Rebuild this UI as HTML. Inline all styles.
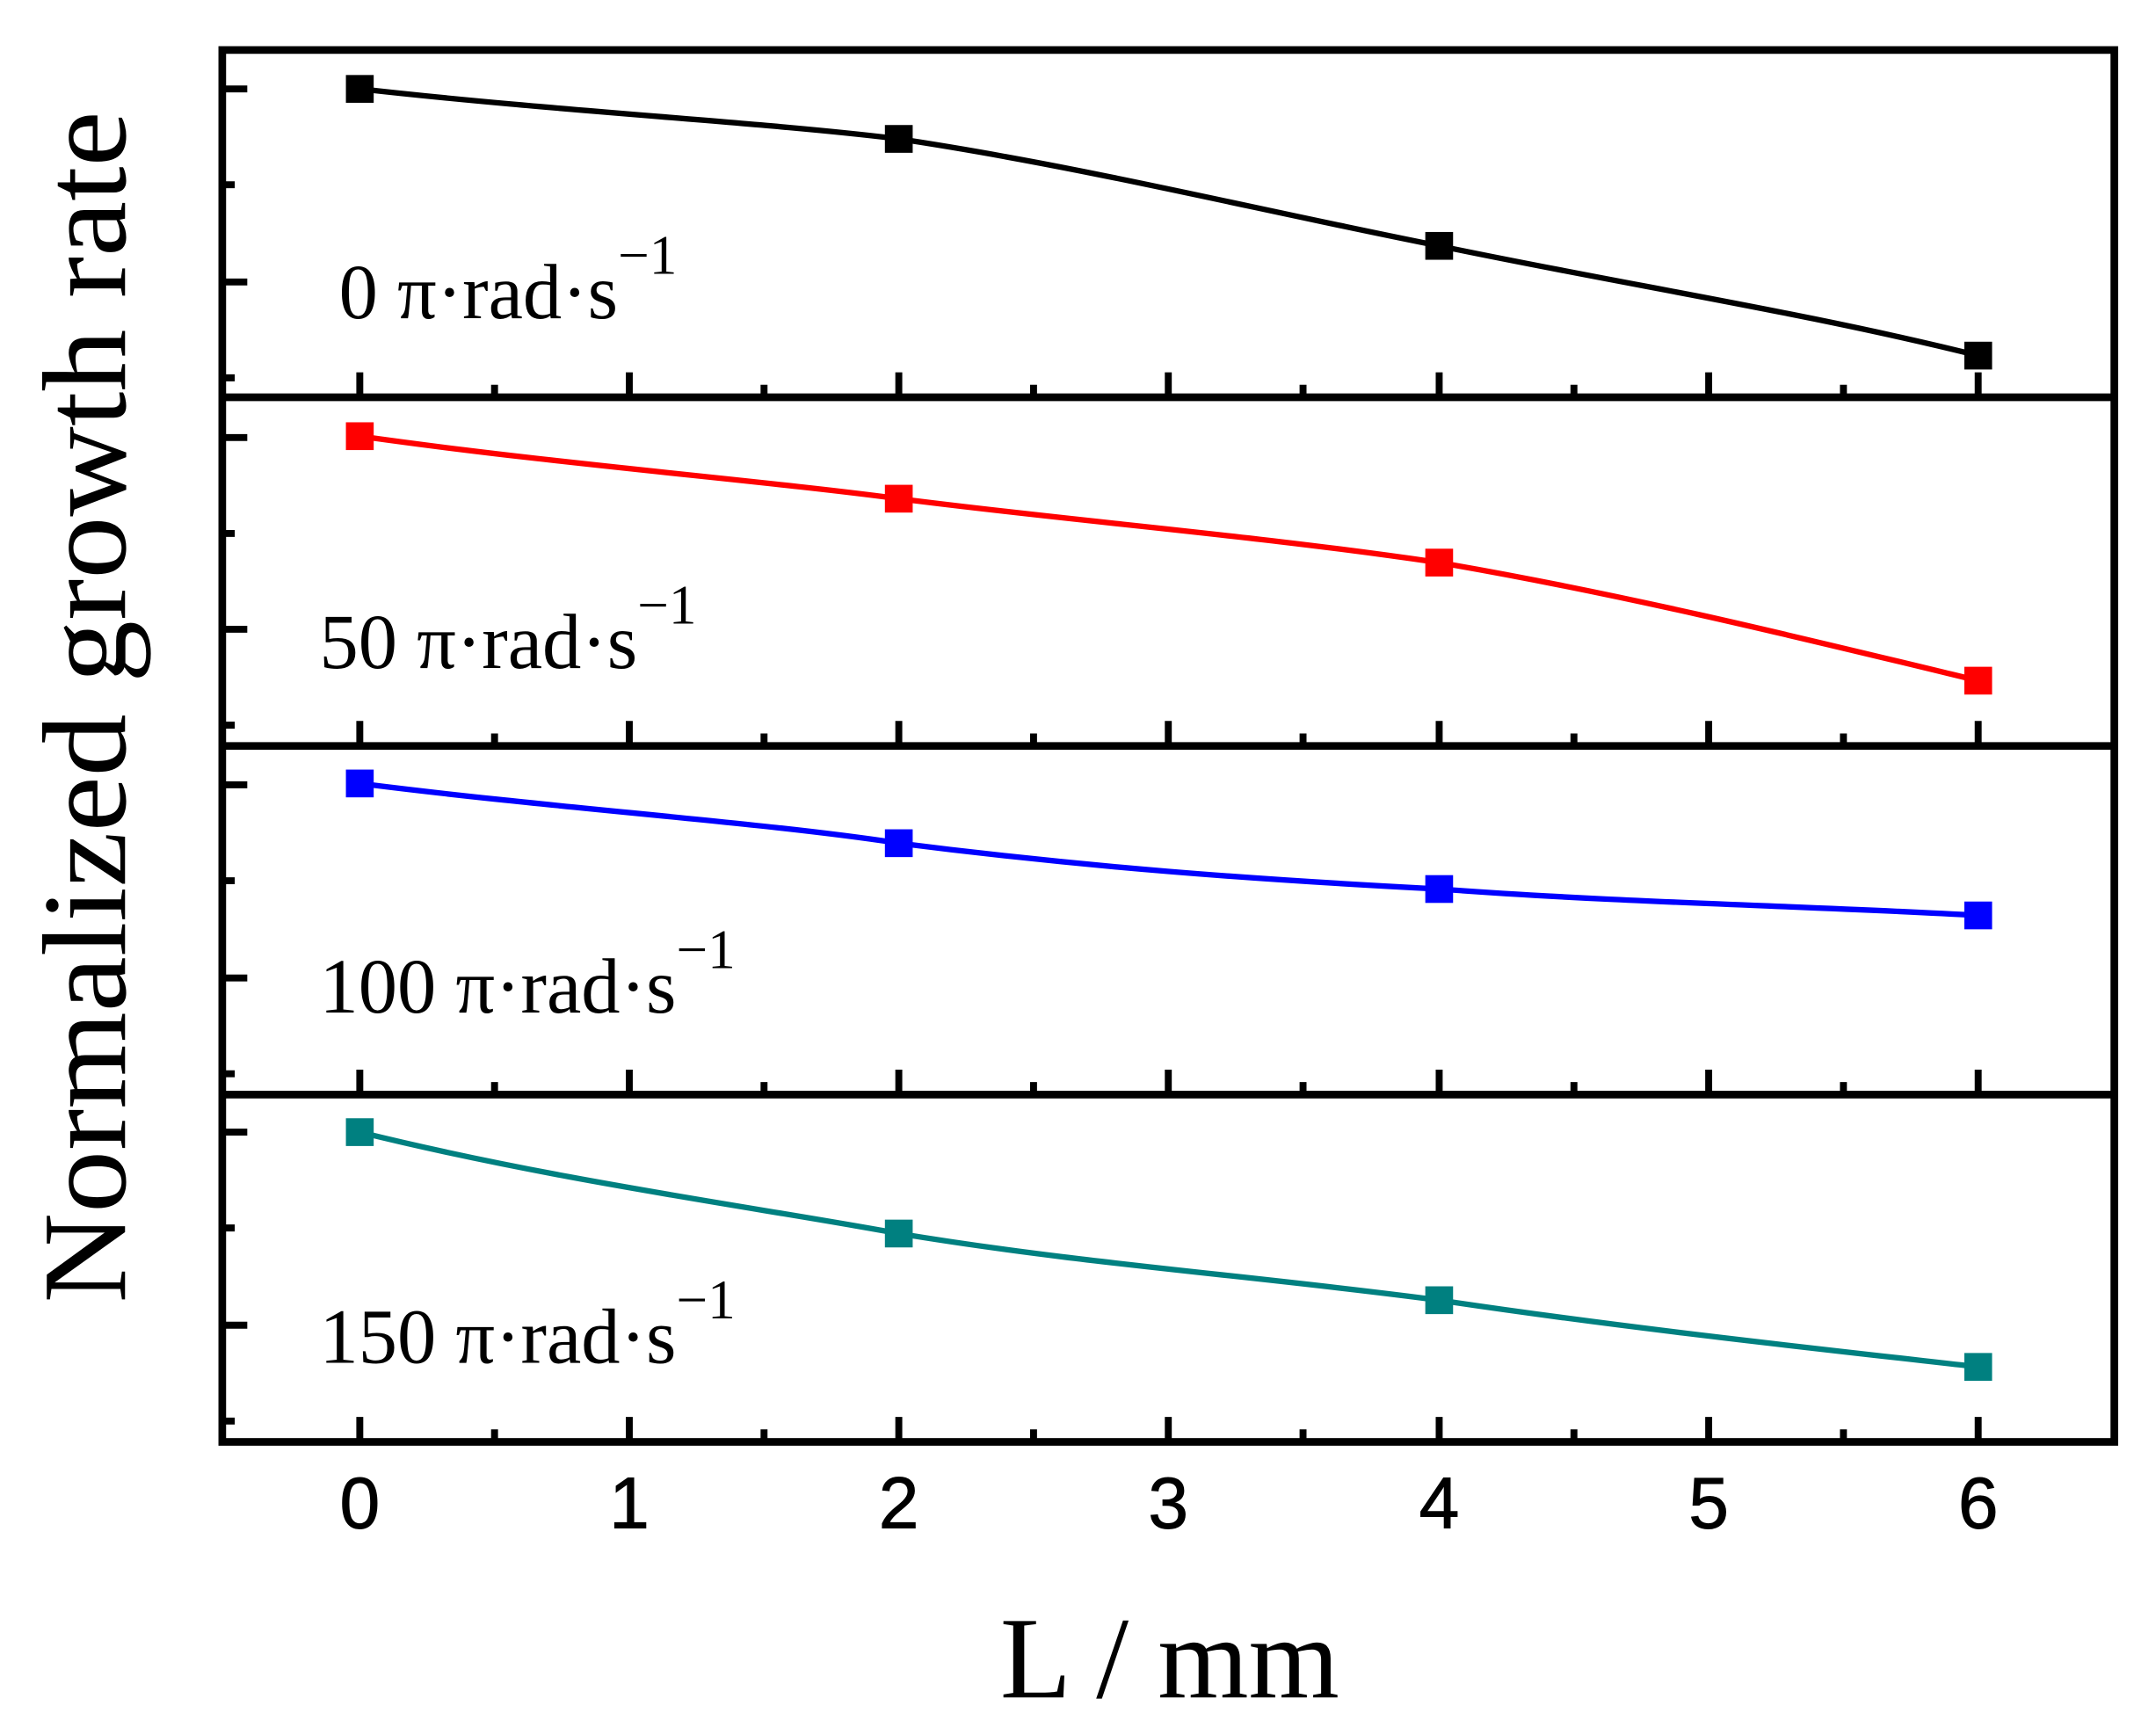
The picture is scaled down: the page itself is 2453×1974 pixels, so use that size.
<!DOCTYPE html>
<html><head><meta charset="utf-8"><style>
html,body{margin:0;padding:0;background:#fff;}
svg{display:block;}
</style></head><body>
<svg width="2453" height="1974" viewBox="0 0 1552 1249" preserveAspectRatio="none" xmlns="http://www.w3.org/2000/svg">
<rect width="1552" height="1249" fill="#fff"/>
<g stroke="#000" stroke-width="5.5" fill="none">
<rect x="160" y="36" width="1362" height="1002"/>
<line x1="160" y1="286" x2="1522" y2="286"/>
<line x1="160" y1="537" x2="1522" y2="537"/>
<line x1="160" y1="788" x2="1522" y2="788"/>
</g>
<g stroke="#000" stroke-width="5">
<path d="M160 64h18M160 203h18M160 133h9M160 272h9
M160 315h18M160 453h18M160 384h9M160 522h9
M160 565h18M160 704h18M160 634h9M160 773h9
M160 815h18M160 954h18M160 884h9M160 1023h9"/>
<path id="xt" d="M259 286v-18M453 286v-18M647 286v-18M841 286v-18M1036 286v-18M1230 286v-18M1424 286v-18M356 286v-9M550 286v-9M744 286v-9M938 286v-9M1133 286v-9M1327 286v-9"/>
<use href="#xt" y="251"/>
<use href="#xt" y="502"/>
<use href="#xt" y="752"/>
</g>
<g font-family="Liberation Sans, sans-serif" font-size="52" text-anchor="middle" fill="#000" stroke="#000" stroke-width="0.6">
<text x="259" y="1100">0</text><text x="453" y="1100">1</text><text x="647" y="1100">2</text><text x="841" y="1100">3</text><text x="1036" y="1100">4</text><text x="1230" y="1100">5</text><text x="1424" y="1100">6</text>
</g>
<g fill="none" stroke-width="4">
<path stroke="#000" d="M259 64 C400 80 550 88 647 100 C780 120 900 150 1036 177 C1170 205 1300 225 1424 256"/>
<path stroke="#f00" d="M259 314 C400 334 550 346 647 359 C780 376 900 385 1036 405 C1170 428 1300 460 1424 490"/>
<path stroke="#00f" d="M259 564 C400 582 550 592 647 607 C780 624 900 633 1036 640 C1170 650 1300 652 1424 659"/>
<path stroke="#008080" d="M259 815 C400 850 550 870 647 888 C780 910 900 918 1036 936 C1170 956 1300 970 1424 984"/>
</g>
<g>
<g fill="#000"><rect x="249" y="54" width="20" height="20"/><rect x="637" y="90" width="20" height="20"/><rect x="1026" y="167" width="20" height="20"/><rect x="1414" y="246" width="20" height="20"/></g>
<g fill="#f00"><rect x="249" y="304" width="20" height="20"/><rect x="637" y="349" width="20" height="20"/><rect x="1026" y="395" width="20" height="20"/><rect x="1414" y="480" width="20" height="20"/></g>
<g fill="#00f"><rect x="249" y="554" width="20" height="20"/><rect x="637" y="597" width="20" height="20"/><rect x="1026" y="630" width="20" height="20"/><rect x="1414" y="649" width="20" height="20"/></g>
<g fill="#008080"><rect x="249" y="805" width="20" height="20"/><rect x="637" y="878" width="20" height="20"/><rect x="1026" y="926" width="20" height="20"/><rect x="1414" y="974" width="20" height="20"/></g>
</g>
<g font-family="Liberation Serif, serif" font-size="56" fill="#000">
<text x="244" y="229">0 π·rad·s<tspan dy="-32" font-size="40">−1</tspan></text>
<text x="230" y="481">50  π·rad·s<tspan dy="-32" font-size="40">−1</tspan></text>
<text x="230" y="729">100 π·rad·s<tspan dy="-32" font-size="40">−1</tspan></text>
<text x="230" y="981">150 π·rad·s<tspan dy="-32" font-size="40">−1</tspan></text>
</g>
<text font-family="Liberation Serif, serif" font-size="86" fill="#000" transform="translate(90,938) rotate(-90)" textLength="858" lengthAdjust="spacingAndGlyphs">Normalized growth rate</text>
<text font-family="Liberation Serif, serif" font-size="84" fill="#000" x="842" y="1222" text-anchor="middle">L / mm</text>
</svg>
</body></html>
